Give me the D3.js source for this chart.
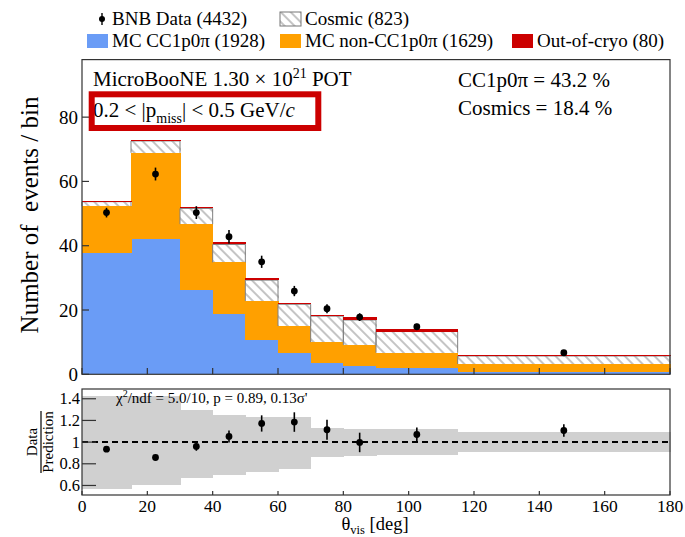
<!DOCTYPE html>
<html>
<head>
<meta charset="utf-8">
<script src="https://cdn.jsdelivr.net/npm/d3@7"></script>
<style>
  body { margin: 0; background: #fff; }
  svg { display: block; }
  text { font-family: "Liberation Serif", "Times New Roman", serif; fill: #000; }
</style>
</head>
<body>
<svg id="chart" width="685" height="537" font-family="Liberation Serif, serif"></svg>
<script>
// θ_vis binning (deg)
const binEdges = [0, 15, 30, 40, 50, 60, 70, 80, 90, 115, 180];

// Stacked prediction, events / bin
const ccSignal  = [37.6, 42.2, 26.2, 18.9, 10.7, 6.5, 3.4, 2.7, 1.9, 0.6];
const nonSignal = [14.7, 26.7, 20.5, 15.9, 12.1, 8.5, 6.6, 6.4, 4.8, 2.6];
const cosmic    = [1.4, 3.7, 4.9, 5.6, 6.5, 6.8, 8.1, 7.8, 6.6, 2.5];
const outOfCryo = [0.3, 0.3, 0.5, 0.7, 0.7, 0.3, 0.3, 0.9, 0.7, 0.4];

// BNB data
const dataVal = [50.3, 62.3, 50.3, 42.8, 35.0, 25.9, 20.4, 17.8, 14.8, 6.7];
const dataErr = [1.5, 2.0, 2.0, 2.1, 1.9, 1.6, 1.4, 1.2, 0.9, 0.5];

// Data / prediction and the uncertainty band
const ratioVal = [0.935, 0.858, 0.96, 1.052, 1.172, 1.185, 1.114, 0.997, 1.07, 1.107];
const ratioErr = [0.02, 0.02, 0.04, 0.055, 0.075, 0.09, 0.092, 0.09, 0.065, 0.058];
const bandHi = [1.421, 1.421, 1.30, 1.254, 1.235, 1.235, 1.129, 1.125, 1.12, 1.092];
const bandLo = [0.569, 0.607, 0.665, 0.70, 0.727, 0.755, 0.867, 0.873, 0.877, 0.905];

// Axis ticks
const yTicksMain = [0, 20, 40, 60, 80];
const xTicks = [0, 20, 40, 60, 80, 100, 120, 140, 160, 180];
const yTicksRatio = [0.6, 0.8, 1.0, 1.2, 1.4];

// Legend entries
const legendItems = [
  { key: "data", label: "BNB Data (4432)" },
  { key: "cos",  label: "Cosmic (823)" },
  { key: "cc",   label: "MC CC1p0\u03c0 (1928)" },
  { key: "non",  label: "MC non-CC1p0\u03c0 (1629)" },
  { key: "ooc",  label: "Out-of-cryo (80)" }
];

const colors = { cc: "#6a9cf6", non: "#ffa000", cos: "url(#hatch)", ooc: "#cc0000" };
const frameColor = "#333";

const svg = d3.select("#chart");

// hatch pattern for cosmics
const defs = svg.append("defs");
const pat = defs.append("pattern")
  .attr("id", "hatch").attr("patternUnits", "userSpaceOnUse")
  .attr("width", 7).attr("height", 7)
  .attr("patternTransform", "rotate(-45)");
pat.append("rect").attr("width", 7).attr("height", 7).attr("fill", "#fff");
pat.append("line").attr("x1", 1).attr("y1", 0).attr("x2", 1).attr("y2", 7)
  .attr("stroke", "#8c8c8c").attr("stroke-width", 1);

// scales
const x = d3.scaleLinear().domain([0, 180]).range([82, 670]);
const y = d3.scaleLinear().domain([0, 97.9]).range([374.3, 59.6]);
const yr = d3.scaleLinear().domain([0.512, 1.49]).range([495, 389]);

const rows = binEdges.slice(0, -1).map((lo, i) => ({
  lo, hi: binEdges[i + 1],
  cc: ccSignal[i], non: nonSignal[i], cos: cosmic[i], ooc: outOfCryo[i]
}));
const centers = rows.map(r => (r.lo + r.hi) / 2);

// ---------- main panel ----------
const stack = d3.stack().keys(["cc", "non", "cos", "ooc"])(rows);
const gMain = svg.append("g");
stack.forEach(s => {
  gMain.selectAll(null).data(s).enter().append("rect")
    .attr("x", d => x(d.data.lo))
    .attr("width", d => x(d.data.hi) - x(d.data.lo) + 0.5)
    .attr("y", d => y(d[1]))
    .attr("height", d => Math.max(0, y(d[0]) - y(d[1])))
    .attr("fill", colors[s.key])
    .attr("shape-rendering", "crispEdges");
  if (s.key === "cos") {
    gMain.selectAll(null).data(s).enter().append("path")
      .attr("d", d => `M${x(d.data.lo)},${y(d[0])}V${y(d[1])}H${x(d.data.hi)}V${y(d[0])}`)
      .attr("fill", "none").attr("stroke", "#808080").attr("stroke-width", 1);
  }
});

// data points
const gData = svg.append("g");
gData.selectAll("line").data(dataVal).enter().append("line")
  .attr("x1", (d, i) => x(centers[i])).attr("x2", (d, i) => x(centers[i]))
  .attr("y1", (d, i) => y(d - dataErr[i])).attr("y2", (d, i) => y(d + dataErr[i]))
  .attr("stroke", "#000").attr("stroke-width", 1.6);
gData.selectAll("circle").data(dataVal).enter().append("circle")
  .attr("cx", (d, i) => x(centers[i])).attr("cy", d => y(d)).attr("r", 3.4).attr("fill", "#000");

// main frame and ticks
const gAx = svg.append("g").attr("stroke", frameColor).attr("stroke-width", 1.2);
gAx.append("rect").attr("x", 82).attr("y", 59.6).attr("width", 588).attr("height", 374.3 - 59.6)
  .attr("fill", "none");
yTicksMain.forEach(v => {
  gAx.append("line").attr("x1", 82).attr("x2", 89).attr("y1", y(v)).attr("y2", y(v));
});
xTicks.forEach(v => {
  gAx.append("line").attr("x1", x(v)).attr("x2", x(v)).attr("y1", 374.3).attr("y2", 368);
});
svg.append("g").selectAll("text").data(yTicksMain).enter().append("text")
  .attr("x", 78).attr("y", d => y(d) + 6.5).attr("text-anchor", "end")
  .attr("font-size", 19).text(d => d);

svg.append("text")
  .attr("transform", "translate(38,215) rotate(-90)")
  .attr("text-anchor", "middle").attr("font-size", 25)
  .style("white-space", "pre")
  .text("Number of  events / bin");

// annotations
const t1 = svg.append("text").attr("x", 93).attr("y", 86).attr("font-size", 21);
t1.append("tspan").text("MicroBooNE 1.30 \u00d7 10");
t1.append("tspan").attr("font-size", 14).attr("dy", -8).text("21");
t1.append("tspan").attr("dy", 8).text(" POT");

const t2 = svg.append("text").attr("x", 93).attr("y", 117).attr("font-size", 21);
t2.append("tspan").text("0.2 < |p");
t2.append("tspan").attr("font-size", 14).attr("dy", 6).text("miss");
t2.append("tspan").attr("dy", -6).text("| < 0.5 GeV/");
t2.append("tspan").attr("font-style", "italic").text("c");

svg.append("rect").attr("x", 91.7).attr("y", 94.3).attr("width", 226.6).attr("height", 33.7)
  .attr("fill", "none").attr("stroke", "#cc0000").attr("stroke-width", 6);

svg.append("text").attr("x", 458).attr("y", 86.5).attr("font-size", 21).text("CC1p0\u03c0 = 43.2 %");
svg.append("text").attr("x", 458).attr("y", 115).attr("font-size", 21).text("Cosmics = 18.4 %");

// ---------- legend ----------
const legendPos = {
  data: [102, 19], cos: [280, 19], cc: [87, 41], non: [280, 41], ooc: [512, 41]
};
const gLeg = svg.append("g");
legendItems.forEach(it => {
  const [lx, ly] = legendPos[it.key];
  if (it.key === "data") {
    gLeg.append("line").attr("x1", lx).attr("x2", lx).attr("y1", ly - 6).attr("y2", ly + 6)
      .attr("stroke", "#000").attr("stroke-width", 1.4);
    gLeg.append("circle").attr("cx", lx).attr("cy", ly).attr("r", 3).attr("fill", "#000");
    gLeg.append("text").attr("x", 112).attr("y", ly + 5.5).attr("font-size", 19).text(it.label);
  } else {
    const h = it.key === "cos" ? 14 : 14;
    gLeg.append("rect").attr("x", lx).attr("y", ly - h / 2).attr("width", 21).attr("height", h)
      .attr("fill", colors[it.key])
      .attr("stroke", it.key === "cos" ? "#777" : "none").attr("stroke-width", 1);
    gLeg.append("text").attr("x", lx + 25).attr("y", ly + 5.5).attr("font-size", 19).text(it.label);
  }
});

// ---------- ratio panel ----------
const gR = svg.append("g");
gR.selectAll("rect.band").data(rows).enter().append("rect")
  .attr("x", d => x(d.lo)).attr("width", d => x(d.hi) - x(d.lo) + 0.5)
  .attr("y", (d, i) => yr(bandHi[i])).attr("height", (d, i) => yr(bandLo[i]) - yr(bandHi[i]))
  .attr("fill", "#d0d0d0").attr("shape-rendering", "crispEdges");

gR.append("line").attr("x1", x(0)).attr("x2", x(180)).attr("y1", yr(1)).attr("y2", yr(1))
  .attr("stroke", "#000").attr("stroke-width", 2).attr("stroke-dasharray", "6,4");

gR.selectAll("line.err").data(ratioVal).enter().append("line")
  .attr("x1", (d, i) => x(centers[i])).attr("x2", (d, i) => x(centers[i]))
  .attr("y1", (d, i) => yr(d - ratioErr[i])).attr("y2", (d, i) => yr(d + ratioErr[i]))
  .attr("stroke", "#000").attr("stroke-width", 1.6);
gR.selectAll("circle").data(ratioVal).enter().append("circle")
  .attr("cx", (d, i) => x(centers[i])).attr("cy", d => yr(d)).attr("r", 3.4).attr("fill", "#000");

const gRA = svg.append("g").attr("stroke", frameColor).attr("stroke-width", 1.2);
gRA.append("rect").attr("x", 82).attr("y", 389).attr("width", 588).attr("height", 106).attr("fill", "none");
yTicksRatio.forEach(v => {
  gRA.append("line").attr("x1", 82).attr("x2", 96).attr("y1", yr(v)).attr("y2", yr(v));
});
xTicks.forEach(v => {
  gRA.append("line").attr("x1", x(v)).attr("x2", x(v)).attr("y1", 495).attr("y2", 491);
});
svg.append("g").selectAll("text").data(yTicksRatio).enter().append("text")
  .attr("x", 80).attr("y", d => yr(d) + 5.5).attr("text-anchor", "end")
  .attr("font-size", 16.5).text(d => d === 1 ? "1" : d.toFixed(1));
svg.append("g").selectAll("text").data(xTicks).enter().append("text")
  .attr("x", d => x(d)).attr("y", 511.5).attr("text-anchor", "middle")
  .attr("font-size", 17.5).text(d => d);

const xt = svg.append("text").attr("x", 375).attr("y", 530).attr("text-anchor", "middle").attr("font-size", 18.5);
xt.append("tspan").text("\u03b8");
xt.append("tspan").attr("font-size", 12.5).attr("dy", 4).text("vis");
xt.append("tspan").attr("dy", -4).text(" [deg]");

// Data / Prediction fraction label
const gFrac = svg.append("g").attr("transform", "translate(41,442) rotate(-90)");
gFrac.append("text").attr("x", 0).attr("y", -4).attr("text-anchor", "middle").attr("font-size", 15).text("Data");
gFrac.append("line").attr("x1", -31).attr("x2", 31).attr("y1", 0).attr("y2", 0)
  .attr("stroke", "#000").attr("stroke-width", 1.2);
gFrac.append("text").attr("x", 0).attr("y", 12).attr("text-anchor", "middle").attr("font-size", 15).text("Prediction");

const chi = svg.append("text").attr("x", 116).attr("y", 403).attr("font-size", 15);
chi.append("tspan").text("\u03c7");
chi.append("tspan").attr("font-size", 10).attr("dy", -6).text("2");
chi.append("tspan").attr("dy", 6).text("/ndf = 5.0/10, p = 0.89, 0.13\u03c3'");
</script>
</body>
</html>
